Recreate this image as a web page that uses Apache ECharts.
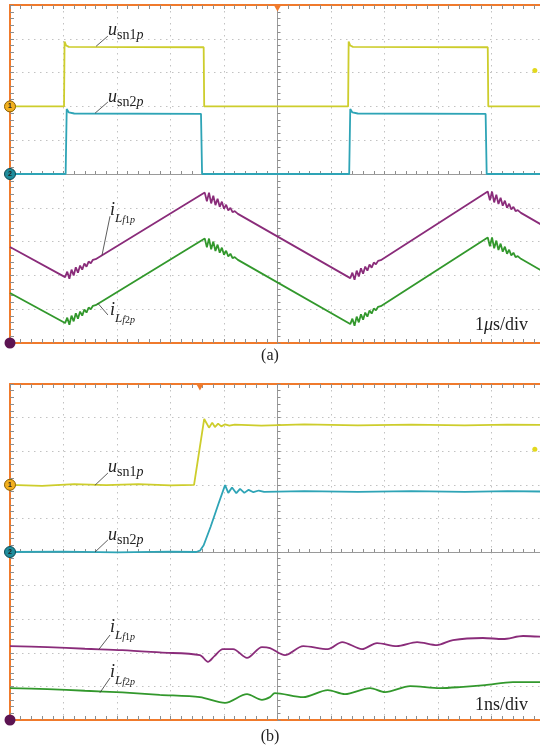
<!DOCTYPE html>
<html>
<head>
<meta charset="utf-8">
<script src="https://cdn.jsdelivr.net/npm/echarts@6/dist/echarts.min.js"></script>
<style>
  html, body { margin: 0; padding: 0; background: #fff; }
  #chart { width: 540px; height: 749px; }
</style>
</head>
<body>
<div id="chart"></div>
<script>
'use strict';

// all values in scope divisions, measured from the screen centre (-5..5)

// (a) 1 us/div
const usn1pA = [[-5, 2.0], [-3.99, 2.0], [-3.98, 3.92], [-3.95, 3.8], [-3.9, 3.76], [-1.38, 3.75],
  [-1.37, 2.0], [1.32, 2.0], [1.33, 3.92], [1.36, 3.8], [1.41, 3.76], [3.93, 3.75], [3.94, 2.0], [5, 2.0]];
const usn2pA = [[-5, 0], [-3.96, 0], [-3.94, 1.92], [-3.9, 1.82], [-3.8, 1.79], [-1.43, 1.78],
  [-1.41, 0], [1.34, 0], [1.36, 1.92], [1.4, 1.82], [1.5, 1.79], [3.89, 1.78], [3.91, 0], [5, 0]];
const iLf1pA = [[-5, -2.16], [-3.97, -3.05],
  [-3.93, -2.89], [-3.89, -3.1], [-3.85, -2.83], [-3.81, -3.0], [-3.77, -2.76], [-3.73, -2.92],
  [-3.69, -2.71], [-3.65, -2.83], [-3.61, -2.65], [-3.57, -2.74], [-3.53, -2.59], [-3.49, -2.64],
  [-3.45, -2.54], [-3.4, -2.52],
  [-1.36, -0.55],
  [-1.32, -0.81], [-1.28, -0.55], [-1.24, -0.87], [-1.2, -0.64], [-1.16, -0.92], [-1.12, -0.73],
  [-1.08, -0.97], [-1.04, -0.82], [-1.0, -1.03], [-0.96, -0.91], [-0.92, -1.08], [-0.88, -1.0],
  [-0.84, -1.13], [-0.8, -1.1], [-0.74, -1.18],
  [1.36, -3.08],
  [1.4, -2.92], [1.44, -3.13], [1.48, -2.86], [1.52, -3.03], [1.56, -2.79], [1.6, -2.95],
  [1.64, -2.74], [1.68, -2.86], [1.72, -2.68], [1.76, -2.77], [1.8, -2.62], [1.84, -2.67],
  [1.88, -2.57], [1.93, -2.55],
  [3.93, -0.52],
  [3.97, -0.78], [4.01, -0.52], [4.05, -0.84], [4.09, -0.61], [4.13, -0.89], [4.17, -0.7],
  [4.21, -0.94], [4.25, -0.79], [4.29, -1.0], [4.33, -0.88], [4.37, -1.05], [4.41, -0.97],
  [4.45, -1.1], [4.49, -1.07], [4.55, -1.15],
  [5, -1.56]];
const iLf2pA = [[-5, -3.52], [-3.97, -4.41],
  [-3.93, -4.25], [-3.89, -4.46], [-3.85, -4.19], [-3.81, -4.36], [-3.77, -4.12], [-3.73, -4.28],
  [-3.69, -4.07], [-3.65, -4.19], [-3.61, -4.01], [-3.57, -4.1], [-3.53, -3.95], [-3.49, -4.0],
  [-3.45, -3.9], [-3.4, -3.88],
  [-1.36, -1.91],
  [-1.32, -2.17], [-1.28, -1.91], [-1.24, -2.23], [-1.2, -2.0], [-1.16, -2.28], [-1.12, -2.09],
  [-1.08, -2.33], [-1.04, -2.18], [-1.0, -2.39], [-0.96, -2.27], [-0.92, -2.44], [-0.88, -2.36],
  [-0.84, -2.49], [-0.8, -2.46], [-0.74, -2.54],
  [1.36, -4.44],
  [1.4, -4.28], [1.44, -4.49], [1.48, -4.22], [1.52, -4.39], [1.56, -4.15], [1.6, -4.31],
  [1.64, -4.1], [1.68, -4.22], [1.72, -4.04], [1.76, -4.13], [1.8, -3.98], [1.84, -4.03],
  [1.88, -3.93], [1.93, -3.91],
  [3.93, -1.88],
  [3.97, -2.14], [4.01, -1.88], [4.05, -2.2], [4.09, -1.97], [4.13, -2.25], [4.17, -2.06],
  [4.21, -2.3], [4.25, -2.15], [4.29, -2.36], [4.33, -2.24], [4.37, -2.41], [4.41, -2.33],
  [4.45, -2.46], [4.49, -2.43], [4.55, -2.51],
  [5, -2.92]];

// (b) 1 ns/div
const usn1pB = [[-5, 2.0], [-4.4, 1.97], [-3.8, 2.02], [-3.2, 1.99], [-2.6, 2.02], [-2.0, 1.98],
  [-1.56, 2.0], [-1.37, 3.96], [-1.28, 3.7], [-1.22, 3.85], [-1.17, 3.72], [-1.11, 3.82],
  [-1.05, 3.74], [-0.98, 3.8], [-0.9, 3.76], [-0.8, 3.79], [-0.3, 3.76], [0.5, 3.8], [1.5, 3.77],
  [2.5, 3.79], [3.5, 3.77], [4.3, 3.79], [5, 3.78]];
const usn2pB = [[-5, 0], [-4.0, 0.01], [-3.0, -0.01], [-2.0, 0.01], [-1.52, 0], [-1.45, 0.04],
  [-1.38, 0.2], [-1.25, 0.75], [-1.1, 1.45], [-0.98, 1.99], [-0.92, 1.76], [-0.85, 1.92],
  [-0.77, 1.75], [-0.7, 1.88], [-0.62, 1.76], [-0.54, 1.85], [-0.45, 1.78], [-0.35, 1.83],
  [-0.25, 1.79], [0.5, 1.81], [1.5, 1.79], [2.5, 1.81], [3.5, 1.79], [4.3, 1.81], [5, 1.8]];
const iLf1pB = [[-5, -2.8], [-4.3, -2.83], [-3.6, -2.88], [-2.9, -2.92], [-2.2, -2.99],
  [-1.45, -3.07], [-1.3, -3.27], [-1.18, -3.1], [-1.02, -2.89], [-0.83, -2.89], [-0.57, -3.15],
  [-0.29, -2.83], [-0.14, -2.86], [0.14, -3.07], [0.48, -2.8], [0.94, -2.89], [1.21, -2.68],
  [1.58, -2.89], [1.86, -2.71], [2.23, -2.8], [2.61, -2.68], [2.98, -2.77], [3.28, -2.62],
  [3.84, -2.56], [4.21, -2.59], [4.59, -2.5], [5, -2.53]];
const iLf2pB = [[-5, -4.05], [-4.3, -4.08], [-3.6, -4.13], [-2.9, -4.18], [-2.2, -4.25],
  [-1.45, -4.32], [-0.98, -4.49], [-0.57, -4.23], [-0.29, -4.4], [-0.14, -4.32], [-0.05, -4.2],
  [0.48, -4.32], [0.94, -4.11], [1.26, -4.23], [1.73, -4.05], [2.01, -4.17], [2.48, -3.99],
  [3.04, -4.05], [3.41, -4.02], [3.88, -3.96], [4.4, -3.87], [5, -3.87]];

// trigger position (x) of each panel, trigger level (y) of channel 1
const triggerX = [0, -1.45];
const triggerLevel = 3.06;

const ORANGE = '#f07a2c';
const SERIF = '"Liberation Serif", "DejaVu Serif", serif';
const C_YEL = '#cdcd2c';
const C_CYA = '#2ea4b6';
const C_PUR = '#8a2c7a';
const C_GRN = '#32982c';

const chart = echarts.init(document.getElementById('chart'));

const edgeAxis = (gridIndex, position, split) => ({
  type: 'value', gridIndex, position, min: -5, max: 5, interval: 1,
  axisLine: { onZero: false, lineStyle: { color: ORANGE, width: 2 } },
  axisTick: { inside: true, length: 4, lineStyle: { color: '#8d8d8d' } },
  minorTick: { show: true, splitNumber: 5, length: 4, lineStyle: { color: '#8d8d8d' } },
  axisLabel: { show: false },
  splitLine: { show: split, lineStyle: { color: '#c2c2c2', type: [1.5, 4.5] } },
});

const centreAxis = (gridIndex, position) => ({
  type: 'value', gridIndex, position, min: -5, max: 5, interval: 1,
  axisLine: { onZero: true, lineStyle: { color: '#9a9a9a', width: 1 } },
  axisTick: { inside: true, length: 3, lineStyle: { color: '#8d8d8d' } },
  minorTick: { show: true, splitNumber: 5, length: 3, lineStyle: { color: '#8d8d8d' } },
  axisLabel: { show: false },
  splitLine: { show: false },
});

const xAxes = [];
const yAxes = [];
[0, 1].forEach((g) => {
  xAxes.push(edgeAxis(g, 'bottom', true), edgeAxis(g, 'top', false), centreAxis(g, 'bottom'));
  yAxes.push(edgeAxis(g, 'left', true), centreAxis(g, 'left'));
});

const uLabel = (sub) => ({
  show: true, position: 'right', distance: 0,
  formatter: `{u|u}{r|${sub}}{i|p}`,
  rich: {
    u: { fontFamily: SERIF, fontStyle: 'italic', fontSize: 18, lineHeight: 24, color: '#222' },
    r: { fontFamily: SERIF, fontSize: 14, lineHeight: 14, verticalAlign: 'bottom', color: '#222' },
    i: { fontFamily: SERIF, fontStyle: 'italic', fontSize: 14, lineHeight: 14, verticalAlign: 'bottom', color: '#222' },
  },
});

const iLabel = (num) => ({
  show: true, position: 'right', distance: 0,
  formatter: `{a|i}{b|L}{c|f}{d|${num}}{c|p}`,
  rich: {
    a: { fontFamily: SERIF, fontStyle: 'italic', fontSize: 18, lineHeight: 30, color: '#222' },
    b: { fontFamily: SERIF, fontStyle: 'italic', fontSize: 13, lineHeight: 8, verticalAlign: 'bottom', color: '#222' },
    c: { fontFamily: SERIF, fontStyle: 'italic', fontSize: 10, lineHeight: 4, verticalAlign: 'bottom', color: '#222' },
    d: { fontFamily: SERIF, fontSize: 10, lineHeight: 4, verticalAlign: 'bottom', color: '#222' },
  },
});

const textPoint = (coord, label) => ({
  coord, symbol: 'circle', symbolSize: 0.1, itemStyle: { color: 'transparent' }, label,
});

const chanMarker = (coord, text, fill, border) => ({
  coord, symbol: 'circle', symbolSize: 11,
  itemStyle: { color: fill, borderColor: border, borderWidth: 1 },
  label: { show: true, position: 'inside', formatter: text, fontSize: 7, fontWeight: 'bold', color: '#222' },
});

const leader = (from, to) => [{ coord: from }, { coord: to }];

const trace = (g, data, color, points, lines, smooth) => ({
  type: 'line', data, xAxisIndex: g * 3, yAxisIndex: g * 2,
  symbol: 'none', smooth: smooth || false, clip: false, animation: false, z: 3,
  lineStyle: { color, width: 1.8 }, itemStyle: { color },
  markPoint: { silent: true, animation: false, data: points },
  markLine: {
    silent: true, animation: false, symbol: 'none', label: { show: false },
    lineStyle: { color: '#333', width: 0.8, type: 'solid' }, data: lines,
  },
});

const panelSeries = (g, u1, u2, i1, i2, pos, smooth) => [
  trace(g, u1, C_YEL, [
    chanMarker([-5, 2], '1', '#f2b01e', '#8a6000'),
    { coord: [triggerX[g], 5], symbol: 'triangle', symbolRotate: 180, symbolSize: [8, 7],
      symbolOffset: [0, 3], itemStyle: { color: ORANGE }, label: { show: false } },
    { coord: [4.81, triggerLevel], symbol: 'circle', symbolSize: 5,
      itemStyle: { color: '#e2d81e' }, label: { show: false } },
    textPoint(pos.u1, uLabel('sn1')),
  ], [leader(pos.u1l[0], pos.u1l[1])]),
  trace(g, u2, C_CYA, [
    chanMarker([-5, 0], '2', '#1f8d9c', '#0d4a55'),
    textPoint(pos.u2, uLabel('sn2')),
  ], [leader(pos.u2l[0], pos.u2l[1])]),
  trace(g, i1, C_PUR, [
    { coord: [-5, -5], symbol: 'circle', symbolSize: 11, itemStyle: { color: '#5c1452' }, label: { show: false } },
    textPoint(pos.i1, iLabel('1')),
  ], [leader(pos.i1l[0], pos.i1l[1])], smooth),
  trace(g, i2, C_GRN, [
    textPoint(pos.i2, iLabel('2')),
  ], [leader(pos.i2l[0], pos.i2l[1])], smooth),
];

const posA = {
  u1: [-3.17, 4.26], u1l: [[-3.39, 3.78], [-3.17, 4.08]],
  u2: [-3.17, 2.28], u2l: [[-3.41, 1.8], [-3.17, 2.13]],
  i1: [-3.13, -1.07], i1l: [[-3.28, -2.4], [-3.13, -1.25]],
  i2: [-3.13, -4.02], i2l: [[-3.36, -3.82], [-3.17, -4.17]],
};
const posB = {
  u1: [-3.17, 2.53], u1l: [[-3.41, 1.99], [-3.17, 2.35]],
  u2: [-3.17, 0.51], u2l: [[-3.41, 0.0], [-3.17, 0.36]],
  i1: [-3.13, -2.23], i1l: [[-3.34, -2.9], [-3.13, -2.47]],
  i2: [-3.13, -3.57], i2l: [[-3.32, -4.19], [-3.13, -3.75]],
};

const option = {
  backgroundColor: '#fff',
  animation: false,
  grid: [
    { left: 10, top: 5, width: 535, height: 338, outerBoundsMode: 'none' },
    { left: 10, top: 384, width: 535, height: 336, outerBoundsMode: 'none' },
  ],
  xAxis: xAxes,
  yAxis: yAxes,
  series: [
    ...panelSeries(0, usn1pA, usn2pA, iLf1pA, iLf2pA, posA, false),
    ...panelSeries(1, usn1pB, usn2pB, iLf1pB, iLf2pB, posB, 0.3),
  ],
  graphic: [
    { type: 'text', x: 528, y: 325, z: 10, style: {
      text: '{n|1}{m|μ}{n|s/div}', align: 'right', verticalAlign: 'middle', fill: '#222',
      rich: { n: { fontFamily: SERIF, fontSize: 18 }, m: { fontFamily: SERIF, fontSize: 18, fontStyle: 'italic' } },
    } },
    { type: 'text', x: 528, y: 705, z: 10, style: {
      text: '1ns/div', align: 'right', verticalAlign: 'middle', fill: '#222',
      fontFamily: SERIF, fontSize: 18,
    } },
    { type: 'text', x: 270, y: 356, style: {
      text: '(a)', align: 'center', verticalAlign: 'middle', fill: '#222', fontFamily: SERIF, fontSize: 16,
    } },
    { type: 'text', x: 270, y: 737, style: {
      text: '(b)', align: 'center', verticalAlign: 'middle', fill: '#222', fontFamily: SERIF, fontSize: 16,
    } },
  ],
};

chart.setOption(option);
</script>
</body>
</html>
